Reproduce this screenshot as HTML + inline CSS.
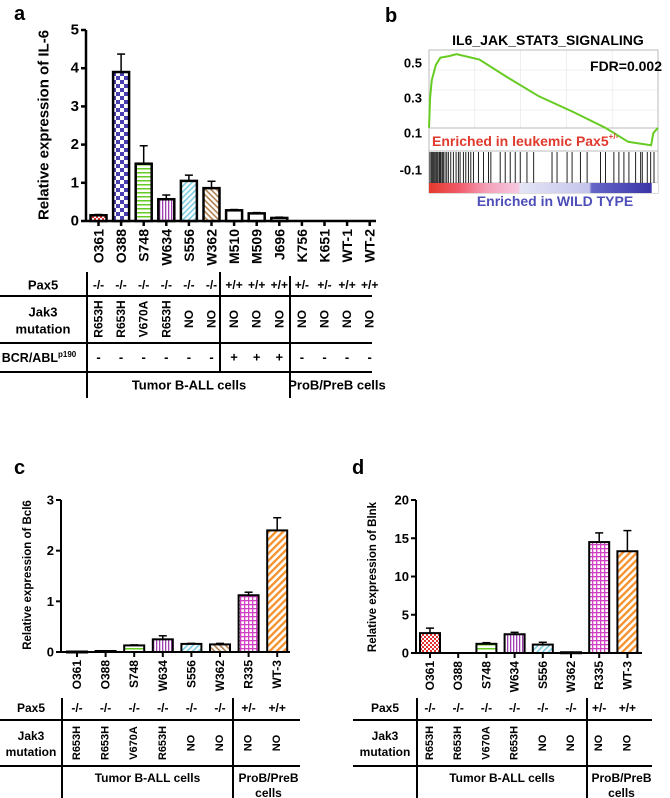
<!DOCTYPE html>
<html><head><meta charset="utf-8">
<style>
html,body{margin:0;padding:0;background:#fff;}
svg{display:block;font-family:"Liberation Sans",Arial,sans-serif;font-weight:bold;}
</style></head>
<body>
<svg id="fig" width="670" height="798" viewBox="0 0 670 798" xmlns="http://www.w3.org/2000/svg">
<defs>
  <pattern id="p-red" width="4" height="4" patternUnits="userSpaceOnUse"><rect width="4" height="4" fill="#fff"/><rect width="2" height="2" fill="#e03030"/><rect x="2" y="2" width="2" height="2" fill="#e03030"/></pattern>
  <pattern id="p-blue" width="8" height="8" patternUnits="userSpaceOnUse"><rect width="8" height="8" fill="#fff"/><rect width="4" height="4" fill="#4a3fb0"/><rect x="4" y="4" width="4" height="4" fill="#4a3fb0"/></pattern>
  <pattern id="p-green" width="4" height="4" patternUnits="userSpaceOnUse"><rect width="4" height="4" fill="#fff"/><rect y="0" width="4" height="1.5" fill="#66cc22"/></pattern>
  <pattern id="p-purple" width="3" height="3" patternUnits="userSpaceOnUse"><rect width="3" height="3" fill="#fff"/><rect width="1.3" height="3" fill="#a040b0"/></pattern>
  <pattern id="p-cyan" width="4" height="4" patternUnits="userSpaceOnUse" patternTransform="rotate(-45)"><rect width="4" height="4" fill="#fff"/><rect width="4" height="1.6" fill="#7ccce0"/></pattern>
  <pattern id="p-brown" width="4" height="4" patternUnits="userSpaceOnUse" patternTransform="rotate(45)"><rect width="4" height="4" fill="#fff"/><rect width="4" height="1.6" fill="#b08050"/></pattern>
  <pattern id="p-white" width="4" height="4" patternUnits="userSpaceOnUse"><rect width="4" height="4" fill="#fff"/></pattern>
  <pattern id="p-magenta" width="4" height="4" patternUnits="userSpaceOnUse"><rect width="4" height="4" fill="#fff"/><rect width="1.3" height="4" fill="#d040c0"/><rect width="4" height="1.3" fill="#d040c0"/></pattern>
  <pattern id="p-orange" width="5" height="5" patternUnits="userSpaceOnUse" patternTransform="rotate(-45)"><rect width="5" height="5" fill="#fff"/><rect width="5" height="2.3" fill="#f5902a"/></pattern>
  <linearGradient id="g-rank" x1="0" x2="1" y1="0" y2="0">
    <stop offset="0" stop-color="#e5392c"/><stop offset="0.13" stop-color="#f05a68"/>
    <stop offset="0.25" stop-color="#f4a0b8"/><stop offset="0.39" stop-color="#f6c8e0"/>
    <stop offset="0.4" stop-color="#e4e4f6"/><stop offset="0.7" stop-color="#c4c4ec"/>
    <stop offset="0.71" stop-color="#6666c8"/><stop offset="0.97" stop-color="#3a36a8"/>
    <stop offset="0.975" stop-color="#ffffff"/><stop offset="1" stop-color="#ffffff"/>
  </linearGradient>
</defs>
<g id="root"></g>
</svg>
<script>
// ---------- Panel a data ----------
const aCategories = ["O361","O388","S748","W634","S556","W362","M510","M509","J696","K756","K651","WT-1","WT-2"];
const aValues = [0.15,3.9,1.5,0.57,1.05,0.86,0.28,0.2,0.08,0,0,0,0];
const aErrors = [0.02,0.47,0.47,0.11,0.15,0.18,0.02,0.02,0.02,0,0,0,0];
const aTicks = [0,1,2,3,4,5];
const aPax5 = ["-/-","-/-","-/-","-/-","-/-","-/-","+/+","+/+","+/+","+/-","+/-","+/+","+/+"];
const aJak3 = ["R653H","R653H","V670A","R653H","NO","NO","NO","NO","NO","NO","NO","NO","NO"];
const aBcr = ["-","-","-","-","-","-","+","+","+","-","-","-","-"];
// ---------- Panel c data ----------
const cCategories = ["O361","O388","S748","W634","S556","W362","R335","WT-3"];
const cValues = [0.01,0.02,0.13,0.25,0.16,0.15,1.12,2.4];
const cErrors = [0,0,0.01,0.07,0.01,0.02,0.06,0.25];
const cTicks = [0,1,2,3];
// ---------- Panel d data ----------
const dCategories = ["O361","O388","S748","W634","S556","W362","R335","WT-3"];
const dValues = [2.6,0,1.2,2.45,1.1,0.1,14.5,13.3];
const dErrors = [0.65,0,0.15,0.25,0.3,0,1.2,2.7];
const dTicks = [0,5,10,15,20];
const cdPax5 = ["-/-","-/-","-/-","-/-","-/-","-/-","+/-","+/+"];
const cdJak3 = ["R653H","R653H","V670A","R653H","NO","NO","NO","NO"];
// ---------- Panel b data ----------
const esRank = [0,0.005,0.012,0.03,0.05,0.09,0.12,0.22,0.34,0.48,0.63,0.77,0.87,0.97,0.98,1.0];
const esValue = [0.13,0.3,0.4,0.49,0.53,0.54,0.55,0.52,0.42,0.31,0.22,0.13,0.05,0.03,0.1,0.13];
const esTicks = [0.5,0.3,0.1,-0.1];
const esTickLabels = ["0.5","0.3","0.1","-0.1"];
const hitZ = [30,34,37,40,43,47,50,53,57,60,63,67,70,75,80,85,92,100,108,115,120,130,137,145,152,160,175,190,205,212,240,255,270,285,300,320,340,395,410,440,455,480,500,540,555,580,595,610,625,645,660,665,680,690,700];
const hitRank = hitZ.map(z => (z-27)/685);

const aFills = ["p-red","p-blue","p-green","p-purple","p-cyan","p-brown","p-white","p-white","p-white","p-white","p-white","p-white","p-white"];
const cdFills = ["p-red","p-blue","p-green","p-purple","p-cyan","p-brown","p-magenta","p-orange"];

const NS = "http://www.w3.org/2000/svg";
const root = document.getElementById("root");
function mk(tag, attrs, parent, text){
  const e = document.createElementNS(NS, tag);
  for (const k in attrs) e.setAttribute(k, attrs[k]);
  if (text !== undefined) e.textContent = text;
  (parent||root).appendChild(e);
  return e;
}
function txt(x,y,s,size,opts,name){
  opts = opts||{};
  const t = mk("text",{x:x,y:y,"font-size":size,"text-anchor":opts.anchor||"middle",fill:opts.fill||"#000"},opts.parent,s);
  if (opts.rot) t.setAttribute("transform","rotate(-90 "+x+" "+y+")");
  if (opts.db) t.setAttribute("dominant-baseline","central");
  
  
  return t;
}
function line(x1,y1,x2,y2,w,name,parent,col){
  const l = mk("line",{x1:x1,y1:y1,x2:x2,y2:y2,stroke:col||"#000","stroke-width":w},parent);
  
  
  return l;
}

function barChart(cfg){
  const g = mk("g",{});
  
  
  const ymax = cfg.ticks[cfg.ticks.length-1];
  const yS = v => cfg.y0 - v/ymax*(cfg.y0-cfg.yTop);
  const xS = i => cfg.x0c + i*cfg.step;
  line(cfg.ax, cfg.yTop, cfg.ax, cfg.y0, cfg.aw, "y-axis", g);
  line(cfg.ax, cfg.y0, cfg.xEnd, cfg.y0, cfg.aw, "x-axis", g);
  cfg.ticks.forEach(t=>{
    const y = yS(t);
    line(cfg.ax-5, y, cfg.ax, y, cfg.aw, "y-tick", g);
    txt(cfg.ax-7, y, String(t), cfg.tickFont, {anchor:"end", db:true, parent:g}, "y-tick-label");
  });
  cfg.cats.forEach((c,i)=>{
    const x = xS(i), v = cfg.vals[i], e = cfg.errs[i];
    line(x, cfg.y0, x, cfg.y0+5, cfg.aw, "x-tick", g);
    txt(x, cfg.y0+8, c, cfg.labFont, {anchor:"end", rot:true, db:true, parent:g}, "x-tick-label");
    if (v>0){
      const yt = yS(v);
      if (e>0){
        line(x, yt, x, yS(v+e), 1.5, "error-bar", g);
        line(x-4, yS(v+e), x+4, yS(v+e), 1.5, "error-cap", g);
      }
      const r = mk("rect",{x:x-cfg.bw/2, y:yt, width:cfg.bw, height:Math.max(cfg.y0-yt,1), fill:"url(#"+cfg.fills[i]+")", stroke:"#000","stroke-width":cfg.bs},g);
      
      
    }
  });
  txt(cfg.titleX, cfg.titleY, cfg.title, cfg.titleFont, {rot:true, db:true, parent:g}, "y-axis-title");
  return xS;
}

// ---- Panel a ----
txt(14, 20, "a", 20, {anchor:"start"}, "panel-label-a");
const aX = barChart({name:"il6-bar-chart", cats:aCategories, vals:aValues, errs:aErrors, ticks:aTicks, fills:aFills,
  ax:86, y0:221, yTop:30, xEnd:376, x0c:98.5, step:22.6, bw:16, bs:2.5, aw:2.5,
  tickFont:15, labFont:14, title:"Relative expression of IL-6", titleX:44, titleY:125, titleFont:15});
line(0,296,372,296,2,"table-rule");
line(0,343,372,343,2,"table-rule");
line(0,372,372,372,2,"table-rule");
line(87,272,87,398,2,"table-divider");
line(220,272,220,371,2,"table-divider");
line(290,276,290,398,2,"table-divider");
txt(43,285,"Pax5",13,{db:true},"row-label-pax5");
txt(43,312,"Jak3",13,{db:true},"row-label-jak3");
txt(43,329,"mutation",13,{db:true},"row-label-mutation");
const bcr = txt(39,358,"BCR/ABL",12.5,{db:true},"row-label-bcr-abl");
mk("tspan",{"font-size":8,dy:-4},bcr,"p190");
aCategories.forEach((c,i)=>{
  const x = aX(i);
  txt(x,285,aPax5[i],12,{db:true},"pax5-"+c.toLowerCase());
  txt(x,319,aJak3[i],12,{rot:true,db:true},"jak3-"+c.toLowerCase());
  txt(x,357,aBcr[i],13,{db:true},"bcr-"+c.toLowerCase());
});
txt(189,385,"Tumor B-ALL cells",13,{db:true},"group-tumor-b-all");
txt(337,385,"ProB/PreB cells",13,{db:true},"group-prob-preb");

// ---- Panel b GSEA ----
txt(385,22,"b",20,{anchor:"start"},"panel-label-b");
txt(548,40,"IL6_JAK_STAT3_SIGNALING",14,{db:true},"gsea-title");
const bx0=429, bx1=658;
const esY = v => 63 + (0.5-v)*175;
const rX = r => bx0 + r*(bx1-bx0);
const gb = mk("g",{});


[0.2,0.4,0.6,0.8].forEach(f=>line(rX(f),50,rX(f),128,0.6,"grid-line",gb,"#e4e4e4"));
[70,90,110].forEach(y=>line(bx0,y,bx1,y,0.6,"grid-line",gb,"#e4e4e4"));
const box = mk("rect",{x:bx0,y:50,width:bx1-bx0,height:143,fill:"none",stroke:"#bbb","stroke-width":1},gb);
 
line(bx0,128,bx1,128,1,"es-zero-line",gb,"#bbb");
line(bx0,151,bx1,151,1,"hits-top",gb,"#bbb");
line(bx0,183,bx1,183,1,"hits-bottom",gb,"#bbb");
hitRank.forEach(r=>line(rX(r),152,rX(r),183,1,"hit-line",gb,"#222"));
const rb = mk("rect",{x:bx0,y:183,width:bx1-bx0,height:10,fill:"url(#g-rank)"},gb);
 
const pts = esRank.map((r,i)=>rX(r).toFixed(1)+","+esY(esValue[i]).toFixed(1)).join(" ");
const pl = mk("polyline",{points:pts,fill:"none",stroke:"#66cc22","stroke-width":2},gb);
 
esTicks.forEach((t,i)=>txt(422,esY(t)+(t<0?2:0),esTickLabels[i],13,{anchor:"end",db:true,parent:gb},"es-tick-label"));
txt(662,66,"FDR=0.002",14,{anchor:"end",db:true,parent:gb},"fdr-label");
const en1 = txt(432,141,"Enriched in leukemic Pax5",14,{anchor:"start",db:true,fill:"#e03a2e",parent:gb},"enriched-pax5-label");
mk("tspan",{"font-size":8,dy:-5},en1,"+/-");
txt(555,201,"Enriched in WILD TYPE",14,{db:true,fill:"#4e4eb8",parent:gb},"enriched-wt-label");

// ---- Panel c ----
txt(14,474,"c",20,{anchor:"start"},"panel-label-c");
const cX = barChart({name:"bcl6-bar-chart", cats:cCategories, vals:cValues, errs:cErrors, ticks:cTicks, fills:cdFills,
  ax:61, y0:652, yTop:500, xEnd:290, x0c:77, step:28.6, bw:20, bs:2, aw:2,
  tickFont:13, labFont:12, title:"Relative expression of Bcl6", titleX:28, titleY:575, titleFont:11.5});
// ---- Panel d ----
txt(352,474,"d",20,{anchor:"start"},"panel-label-d");
const dX = barChart({name:"blnk-bar-chart", cats:dCategories, vals:dValues, errs:dErrors, ticks:dTicks, fills:cdFills,
  ax:416, y0:653, yTop:500, xEnd:642, x0c:430, step:28.2, bw:20, bs:2, aw:2,
  tickFont:13, labFont:12, title:"Relative expression of Blnk", titleX:373, titleY:577, titleFont:11.5});

function cdTable(xs, left, right, vA, vB, cats, pref){
  line(left,720,right,720,2,pref+"-table-rule");
  line(left,766,right,766,2,pref+"-table-rule");
  line(vA,698,vA,798,2,pref+"-table-divider");
  line(vB,698,vB,798,2,pref+"-table-divider");
  const lc = (left+vA)/2;
  txt(lc,708,"Pax5",12,{db:true},pref+"-row-label-pax5");
  txt(lc,736,"Jak3",12,{db:true},pref+"-row-label-jak3");
  txt(lc,752,"mutation",12,{db:true},pref+"-row-label-mutation");
  cats.forEach((c,i)=>{
    const x = xs(i);
    txt(x,708,cdPax5[i],12,{db:true},pref+"-pax5-"+c.toLowerCase());
    txt(x,743,cdJak3[i],11,{rot:true,db:true},pref+"-jak3-"+c.toLowerCase());
  });
  txt((vA+vB)/2,778,"Tumor B-ALL cells",12,{db:true},pref+"-group-tumor");
  txt((vB+right)/2+2,778,"ProB/PreB",12,{db:true},pref+"-group-prob");
  txt((vB+right)/2+2,793,"cells",12,{db:true},pref+"-group-cells");
}
cdTable(cX, 0, 300, 62, 233, cCategories, "c");
cdTable(dX, 353, 652, 417, 587, dCategories, "d");
</script>
</body></html>
